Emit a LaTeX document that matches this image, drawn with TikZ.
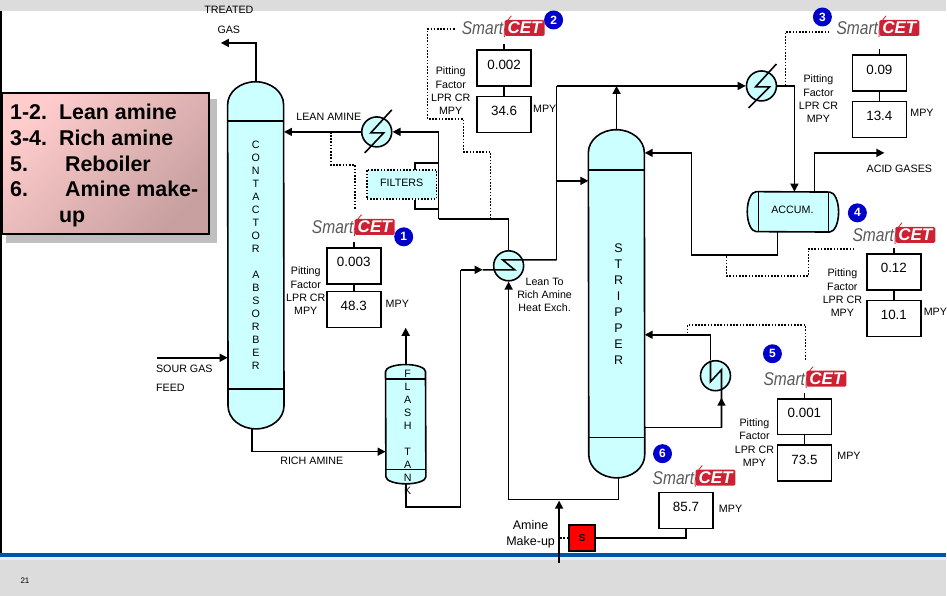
\documentclass[tikz,border=0pt]{standalone}
\usepackage{fontspec}
\setmainfont{Liberation Sans}
\usetikzlibrary{arrows.meta, positioning, calc}

\definecolor{vesselcyan}{HTML}{CCFFFF}
\definecolor{bandgrey}{HTML}{DCDCDC}
\definecolor{bandblue}{HTML}{0054A6}
\definecolor{badgeblue}{HTML}{0000CC}
\definecolor{logored}{HTML}{CC2233}
\definecolor{legendlight}{HTML}{FFCCCC}
\definecolor{legenddark}{HTML}{C8A0A0}

\begin{document}
\begin{tikzpicture}[
		x=1pt, y=-1pt,
		pipe/.style={line width=1.6pt},
		flow/.style={pipe, -{Triangle[length=8pt, width=8pt]}},
		signal/.style={line width=1.6pt, dash pattern=on 1.6pt off 1.6pt},
		vessel/.style={rectangle, inner sep=0pt, minimum width=#1},
		vesselline/.style={draw, line width=1.6pt, fill=vesselcyan},
		exchanger/.style={circle, draw, line width=1.6pt, fill=vesselcyan, minimum size=30pt, inner sep=0pt},
		readout/.style={rectangle, draw, line width=1.6pt, fill=white, minimum width=54pt, minimum height=36pt, text depth=7pt, font=\fontsize{13.4}{15}\selectfont},
		badge/.style={circle, fill=badgeblue, text=white, minimum size=19pt, inner sep=0pt, font=\bfseries\fontsize{12}{12}\selectfont},
		smart/.style={inner sep=0pt, text=black!65, transform shape, xscale=.84, font=\itshape\fontsize{18.5}{18.5}\selectfont},
		cet/.style={fill=logored, text=white, rounded corners=1.5pt, minimum width=40pt, minimum height=16pt, inner sep=0pt, font=\bfseries\itshape\fontsize{17}{17}\selectfont},
		small/.style={font=\fontsize{10.7}{13}\selectfont, align=center, inner sep=0pt},
		letters/.style={font=\fontsize{10.7}{13}\selectfont, align=center, inner sep=0pt}
		]
	% page bands
	\fill[bandgrey] (0,0) rectangle (947,11);
	\fill[bandgrey] (0,560) rectangle (947,596);
	\fill[black] (0,11) rectangle (2,553);
	\fill[bandblue] (0,553) rectangle (947,557);
	\fill[blue!8] (0,557) rectangle (947,560);
	\node[small, font=\fontsize{8}{9}\selectfont] (pagenum) at (25,581) {21};

	% legend
	\fill[black!25] (6,99) rectangle (217,243);
	\node[rectangle, draw, line width=2pt, left color=legendlight, right color=legenddark, shading angle=45, minimum width=207pt, minimum height=141pt, inner sep=0pt] (legendbox) at (105.5,163.5) {};
	\node[anchor=north west, inner sep=0pt, align=left, font=\bfseries\fontsize{21.4}{25.8}\selectfont] (legendtext) at (10,104) {\makebox[49pt][l]{1-2.}Lean amine\\\makebox[49pt][l]{3-4.}Rich amine\\\makebox[55pt][l]{5.}Reboiler\\\makebox[55pt][l]{6.}Amine make-\\\hspace*{49pt}up};

	% vessels
	\node[vessel=56pt, minimum height=347pt] (contactor) at (256,255.5) {};
	\node[vessel=56pt, minimum height=348pt] (stripper) at (617,304) {};
	\node[vessel=40pt, minimum height=119pt] (flash) at (406,424.5) {};
	\node[vessel=91pt, minimum height=40pt] (accum) at (793.5,212) {};

	\draw[vesselline] ($(contactor.north west)+(0,23)$) arc[start angle=180, end angle=360, x radius=28, y radius=23] -- ($(contactor.south east)+(0,-23)$) arc[start angle=0, end angle=180, x radius=28, y radius=23] -- cycle;
	\draw[pipe] (228,121) -- (284,121) (228,389) -- (284,389);
	\draw[vesselline] ($(stripper.north west)+(0,23)$) arc[start angle=180, end angle=360, x radius=28, y radius=23] -- ($(stripper.south east)+(0,-23)$) arc[start angle=0, end angle=180, x radius=28, y radius=23] -- cycle;
	\draw[pipe] (589,170) -- (645,170) (589,438) -- (645,438);
	\draw[vesselline] ($(flash.north west)+(0,7)$) arc[start angle=180, end angle=360, x radius=20, y radius=7] -- ($(flash.south east)+(0,-7)$) arc[start angle=0, end angle=180, x radius=20, y radius=7] -- cycle;
	\draw[pipe] (386,379) -- (426,379) (386,470) -- (426,470);
	\draw[vesselline] ($(accum.north west)+(9,0)$) arc[start angle=270, end angle=90, x radius=9, y radius=20] -- ($(accum.south east)+(-9,0)$) arc[start angle=90, end angle=-90, x radius=9, y radius=20] -- cycle;
	\draw[pipe] (759,192) -- (759,232) (829,192) -- (829,232);

	\node[letters] (contactortext) at (256,255.5) {C\\O\\N\\T\\A\\C\\T\\O\\R\\[13pt]A\\B\\S\\O\\R\\B\\E\\R};
	\node[letters, font=\fontsize{12.5}{16}\selectfont] (strippertext) at (619,304) {S\\T\\R\\I\\P\\P\\E\\R};
	\node[letters] (flashtext) at (408,433) {F\\L\\A\\S\\H\\[13pt]T\\A\\N\\K};
	\node[small] (accumtext) at (793,210) {ACCUM.};

	% exchangers
	\node[exchanger] (cooler) at (377,132) {};
	\node[exchanger] (condenser) at (762,86) {};
	\node[exchanger] (leanrich) at (509,266) {};
	\node[exchanger] (reboiler) at (716,376) {};
	\draw[pipe] (365,153) -- (384,133) -- (371,133) -- (392,110);
	\draw[pipe] (749,108) -- (770,87) -- (756,87) -- (777,64);

	% filters
	\node[rectangle, draw, signal, fill=vesselcyan, minimum width=70pt, minimum height=29pt, inner sep=0pt, font=\fontsize{10.7}{12}\selectfont] (filters) at (402,184.5) {\raisebox{3pt}{FILTERS}};
	\coordinate (teetop) at (439,132);
	\coordinate (teelow) at (439,219);
	\draw[pipe] (teelow) -- (teetop);
	\draw[pipe] (439,163) -| (415,170);
	\draw[pipe] (439,209) -| (415,200);

	% readouts
	\node[readout] (pf1) at (354,266) {0.003};
	\node[readout, below=6pt of pf1] (mpy1) {48.3};
	\node[readout] (pf2) at (504.5,68) {0.002};
	\node[readout, below=9pt of pf2] (mpy2) {34.6};
	\node[readout] (pf3) at (880,73) {0.09};
	\node[readout, below=9pt of pf3] (mpy3) {13.4};
	\node[readout] (pf4) at (894.5,272) {0.12};
	\node[readout, below=9pt of pf4] (mpy4) {10.1};
	\node[readout] (pf5) at (805,417) {0.001};
	\node[readout, below=9pt of pf5] (mpy5) {73.5};
	\node[readout] (mpy6) at (686.5,511) {85.7};
	\foreach \n in {1,...,5} {
		\draw[pipe] (pf\n.south) -- (mpy\n.north);
		\draw[pipe] (pf\n.north) -- ++(0,-5);
	}
	\node[small, right=4pt of mpy1.east, yshift=6pt] (mpylabel1) {MPY};
	\node[small, right=1pt of mpy2.east, yshift=6pt] (mpylabel2) {MPY};
	\node[small, right=3pt of mpy3.east, yshift=7pt] (mpylabel3) {MPY};
	\node[small, right=2pt of mpy4.east, yshift=7pt] (mpylabel4) {MPY};
	\node[small, right=5pt of mpy5.east, yshift=7pt] (mpylabel5) {MPY};
	\node[small, right=5pt of mpy6.east, yshift=2pt] (mpylabel6) {MPY};

	\foreach \n/\x/\y in {1/306/291, 2/451/91, 3/819/99, 4/843/293, 5/755/443}
		\node[small, font=\fontsize{10.7}{13.3}\selectfont] (pitting\n) at (\x,\y) {Pitting\\Factor\\LPR CR\\MPY};

	% smart logos
	\foreach \n/\x/\y in {1/375/227, 2/525/28, 3/900/28, 4/916/235, 5/827/379, 6/716/478} {
		\node[cet] (cet\n) at (\x,\y) {CET};
		\node[smart, anchor=east] (smart\n) at ($(cet\n.west)+(-1,0)$) {Smart};
		\draw[logored, line width=.8pt] ($(cet\n.south west)+(0,1)$) to[bend left=25] ($(cet\n.north west)+(7,-4)$);
	}
	\foreach \n/\x/\y in {1/404/237, 2/554/20, 3/823/17, 4/858/213, 5/773/354, 6/663/454}
		\node[badge] (badge\n) at (\x,\y) {\n};

	% process lines
	\coordinate (treated) at (221,43);
	\draw[flow] (contactor.north) |- (treated);
	\draw[flow] (cooler.west) -- (contactor.east |- cooler);
	\draw[flow] (teetop) -- (cooler.east);
	\draw[pipe] (leanrich.north) |- (teelow);
	\coordinate (feed) at (157,358);
	\draw[flow] (feed) -- (contactor.west |- feed);
	\coordinate (richdrop) at (252,429);
	\draw[flow] (richdrop) |- (flash.west |- 0,452);
	\coordinate (flashvent) at (406,328);
	\draw[flow] (flash.north) -- (flashvent);
	\coordinate (richin) at (461,270);
	\draw[pipe] (flash.south) -- ++(0,23) -| (richin);
	\draw[flow] (richin) -- (483,270);
	\draw[pipe] (483,270) -- (515,270) -- (503,260) -- (557,260);
	\coordinate (overhead) at (557,86);
	\draw[pipe] (557,260) -- (overhead);
	\draw[flow] (overhead) -- (condenser.west);
	\draw[flow] (557,181) -- (stripper.west |- 0,181);
	\draw[flow] (stripper.north) -- (stripper.north |- overhead);
	\draw[flow] (condenser.east) -| (accum.north -| 795,0);
	\coordinate (acid) at (885,153);
	\draw[flow] (815,192) |- (acid);
	\draw[flow] (778,232) |- (692,255) |- (stripper.east |- 0,153);
	\coordinate (bottoms) at (619,478);
	\draw[flow] (bottoms) |- (509,500) -- (leanrich.south);
	\coordinate (makeup) at (559.5,563);
	\draw[flow] (makeup) -- (559.5,501);
	\draw[flow] (reboiler.north -| 711,0) -- (711,335) -- (stripper.east |- 0,335);
	\draw[pipe] (711,361) -- (711,382) -- (722,370) -- (722,428);
	\draw[pipe] (645,428) -- (722,428);
	\draw[flow] (722,428) -- (722,398);

	% sensor
	\node[rectangle, draw, line width=1.6pt, fill=red, minimum size=26pt, inner sep=0pt, font=\bfseries\fontsize{10}{10}\selectfont] (sensor) at (582.5,538.5) {\raisebox{1pt}{S}};
	\draw[pipe] (sensor.east) -| (mpy6.south);
	\draw[signal] (sensor.west) -- ++(-8,0);

	% signal lines
	\draw[signal] (331,132) -- (331,165) -- (355,165) -- (355,210);
	\draw[signal] (455,29) -- (428,29) -- (428,119) -- (464,119) -- (464,152) -- (491,152) -- (491,219);
	\draw[signal] (830,32) -- (786,32) -- (786,86);
	\draw[signal] (855,249) -- (809,249) -- (809,276) -- (727,276) -- (727,255);
	\draw[signal] (806,360) -- (806,325) -- (688,325) -- (688,335);

	% labels
	\node[small] (treatedlabel) at (229,10) {TREATED};
	\node[small] (gaslabel) at (229,30) {GAS};
	\node[small] (leanlabel) at (329,117) {LEAN AMINE};
	\node[small] (richlabel) at (312,461) {RICH AMINE};
	\node[small, anchor=west] (sourlabel) at (156,369) {SOUR GAS};
	\node[small, anchor=west] (feedlabel) at (156,388) {FEED};
	\node[small, font=\fontsize{10.7}{13}\selectfont] (hxlabel) at (545,295) {Lean To\\Rich Amine\\Heat Exch.};
	\node[small] (acidlabel) at (900,169) {ACID GASES};
	\node[small, font=\fontsize{12.5}{16}\selectfont] (makeuplabel) at (531,535) {Amine\\Make-up};
\end{tikzpicture}
\end{document}
